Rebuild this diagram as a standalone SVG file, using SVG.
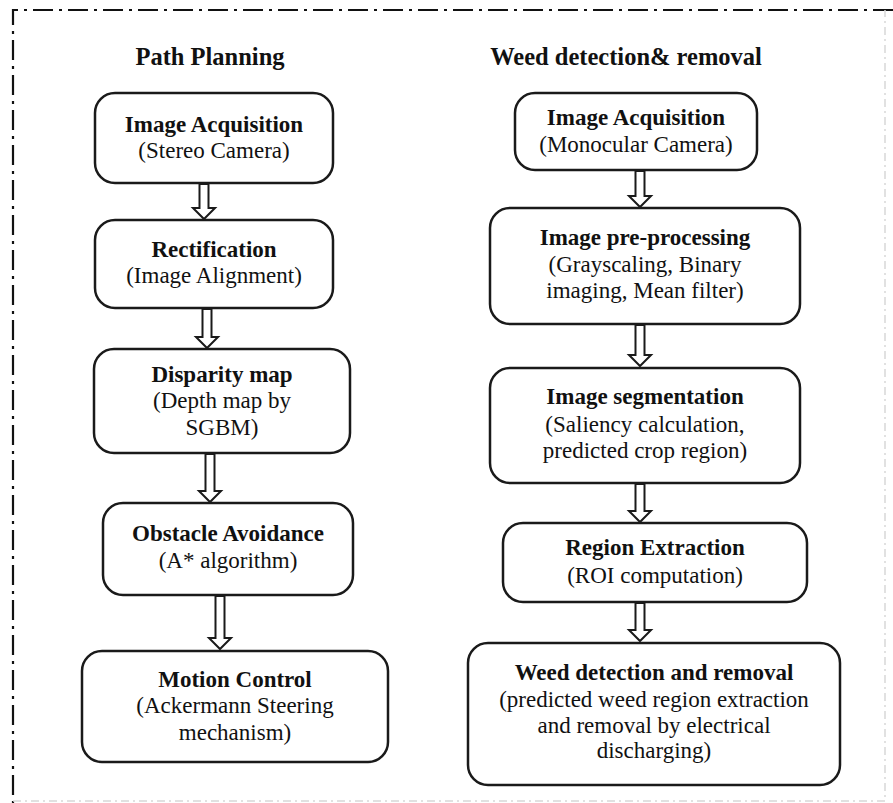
<svg xmlns="http://www.w3.org/2000/svg" width="893" height="803" viewBox="0 0 893 803">
<style>
.box{fill:#fff;stroke:#1a1a1a;stroke-width:2.5}
.arr{fill:#fff;stroke:#1a1a1a;stroke-width:2;stroke-linejoin:miter}
.tx{font-family:'Liberation Serif','DejaVu Serif',serif;fill:#111;text-anchor:middle}
.t{font-size:24.5px;font-weight:bold}
.b{font-size:23px;font-weight:bold}
.r{font-size:23px}
.border{fill:none;stroke:#111;stroke-width:2.2;stroke-dasharray:20 6 3 6}
.faint{fill:none;stroke:#d8d8d8;stroke-width:1.5;stroke-dasharray:8 4 2 4}
</style>
<rect width="893" height="803" fill="#fff"/>
<g id="frame">
<path class="border" d="M893 10 H13 V803"/>
<path class="faint" d="M13 801 H885 V10"/>
</g>
<g id="titles" class="tx">
<text class="t" x="210" y="65">Path Planning</text>
<text class="t" x="626" y="65">Weed detection&amp; removal</text>
</g>
<g id="L1" class="tx"><rect class="box" x="95" y="93" width="238" height="90" rx="20"/>
<text class="b" x="214" y="132">Image Acquisition</text><text class="r" x="214" y="158">(Stereo Camera)</text></g>
<g id="L2" class="tx"><rect class="box" x="95" y="220" width="238" height="88" rx="20"/>
<text class="b" x="214" y="257">Rectification</text><text class="r" x="214" y="283">(Image Alignment)</text></g>
<g id="L3" class="tx"><rect class="box" x="94" y="349" width="256" height="104" rx="20"/>
<text class="b" x="222" y="382">Disparity map</text><text class="r" x="222" y="408">(Depth map by</text><text class="r" x="222" y="435">SGBM)</text></g>
<g id="L4" class="tx"><rect class="box" x="103" y="503" width="250" height="92" rx="20"/>
<text class="b" x="228" y="541">Obstacle Avoidance</text><text class="r" x="228" y="568">(A* algorithm)</text></g>
<g id="L5" class="tx"><rect class="box" x="82" y="651" width="306" height="111" rx="20"/>
<text class="b" x="235" y="687">Motion Control</text><text class="r" x="235" y="713">(Ackermann Steering</text><text class="r" x="235" y="740">mechanism)</text></g>
<g id="R1" class="tx"><rect class="box" x="515" y="93" width="242" height="77" rx="20"/>
<text class="b" x="636" y="125">Image Acquisition</text><text class="r" x="636" y="152">(Monocular Camera)</text></g>
<g id="R2" class="tx"><rect class="box" x="490" y="208" width="310" height="116" rx="20"/>
<text class="b" x="645" y="245">Image pre-processing</text><text class="r" x="645" y="272">(Grayscaling, Binary</text><text class="r" x="645" y="298">imaging, Mean filter)</text></g>
<g id="R3" class="tx"><rect class="box" x="490" y="368" width="310" height="115" rx="20"/>
<text class="b" x="645" y="404">Image segmentation</text><text class="r" x="645" y="432">(Saliency calculation,</text><text class="r" x="645" y="458">predicted crop region)</text></g>
<g id="R4" class="tx"><rect class="box" x="503" y="523" width="304" height="79" rx="20"/>
<text class="b" x="655" y="555">Region Extraction</text><text class="r" x="655" y="583">(ROI computation)</text></g>
<g id="R5" class="tx"><rect class="box" x="468" y="643" width="372" height="142" rx="20"/>
<text class="b" x="654" y="680">Weed detection and removal</text><text class="r" x="654" y="707">(predicted weed region extraction</text><text class="r" x="654" y="733">and removal by electrical</text><text class="r" x="654" y="758">discharging)</text></g>
<g id="connectors">
<path class="arr" d="M199.5 184 V208 H193 L204 219 L215 208 H208.5 V184 Z"/>
<path class="arr" d="M202.5 309 V337 H196 L207 348 L218 337 H211.5 V309 Z"/>
<path class="arr" d="M205.5 454 V491 H199 L210 502 L221 491 H214.5 V454 Z"/>
<path class="arr" d="M215.5 596 V638 H209 L220 649 L231 638 H224.5 V596 Z"/>
<path class="arr" d="M635.5 171 V196 H629 L640 207 L651 196 H644.5 V171 Z"/>
<path class="arr" d="M635.5 325 V355 H629 L640 366 L651 355 H644.5 V325 Z"/>
<path class="arr" d="M635.5 484 V511 H629 L640 522 L651 511 H644.5 V484 Z"/>
<path class="arr" d="M635.5 603 V630 H629 L640 641 L651 630 H644.5 V603 Z"/>
</g>
</svg>
